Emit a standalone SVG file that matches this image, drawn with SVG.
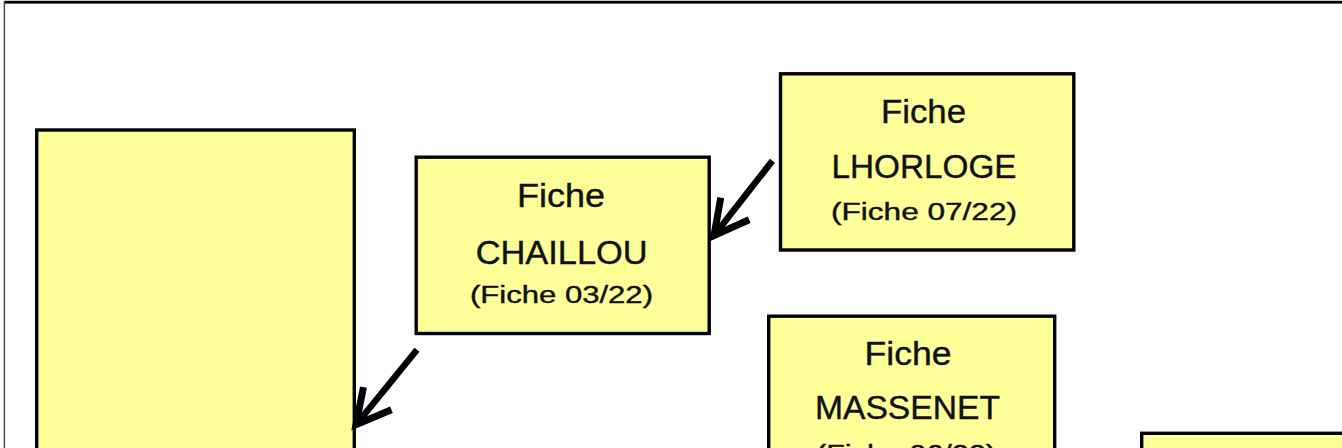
<svg xmlns="http://www.w3.org/2000/svg" width="1342" height="448" viewBox="0 0 1342 448">
  <defs>
    <style>
      .box { fill: #FFFF99; stroke: #000; stroke-width: 3.4; }
      .big { font-family: "Liberation Sans", Arial, sans-serif; font-size: 33px; fill: #111; text-anchor: middle; stroke: #111; stroke-width: 0.4; }
      .small { font-family: "Liberation Sans", Arial, sans-serif; font-size: 23px; fill: #111; text-anchor: middle; stroke: #111; stroke-width: 0.4; }
      .conn { stroke: #000; stroke-width: 6.5; fill: none; marker-end: url(#ah); }
    </style>
    <marker id="ah" markerUnits="userSpaceOnUse" orient="auto" overflow="visible" markerWidth="10" markerHeight="10" refX="0" refY="0">
      <path d="M-34,-18 L0,0 L-34,18" fill="none" stroke="#000" stroke-width="7" stroke-linejoin="miter" stroke-miterlimit="10"/>
    </marker>
  </defs>
  <rect x="0" y="0" width="1342" height="448" fill="#fff"/>
  <g id="frame">
    <rect x="4" y="0.8" width="1338" height="2.8" fill="#000"/>
    <line x1="4.4" y1="1" x2="4.4" y2="448" stroke="#444" stroke-width="1.4"/>
  </g>
  <g id="node-left">
    <rect class="box" x="36.7" y="130" width="317.6" height="360"/>
  </g>
  <g id="node-chaillou">
    <rect class="box" x="416.2" y="157.2" width="293" height="176.3"/>
    <text class="big" x="561" y="206.7" textLength="88" lengthAdjust="spacingAndGlyphs">Fiche</text>
    <text class="big" x="561.7" y="264" textLength="172" lengthAdjust="spacingAndGlyphs">CHAILLOU</text>
    <text class="small" x="561.5" y="303.3" textLength="183" lengthAdjust="spacingAndGlyphs">(Fiche 03/22)</text>
  </g>
  <g id="node-lhorloge">
    <rect class="box" x="780.5" y="73.8" width="293.3" height="176.2"/>
    <text class="big" x="923.5" y="123.3" textLength="85" lengthAdjust="spacingAndGlyphs">Fiche</text>
    <text class="big" x="924" y="177.5" textLength="185" lengthAdjust="spacingAndGlyphs">LHORLOGE</text>
    <text class="small" x="924" y="219.5" textLength="186" lengthAdjust="spacingAndGlyphs">(Fiche 07/22)</text>
  </g>
  <g id="node-massenet">
    <rect class="box" x="768.7" y="316.2" width="286" height="200"/>
    <text class="big" x="908" y="365" textLength="87" lengthAdjust="spacingAndGlyphs">Fiche</text>
    <text class="big" x="907.5" y="419.3" textLength="185" lengthAdjust="spacingAndGlyphs">MASSENET</text>
    <text class="small" x="906" y="461.5" textLength="180" lengthAdjust="spacingAndGlyphs">(Fiche 06/22)</text>
  </g>
  <g id="node-right">
    <rect class="box" x="1141.7" y="433.3" width="300" height="100"/>
  </g>
  <g id="connectors">
    <line class="conn" x1="772.5" y1="160.7" x2="714" y2="235.5"/>
    <line class="conn" x1="417" y1="349.7" x2="356" y2="424.8"/>
  </g>
</svg>
